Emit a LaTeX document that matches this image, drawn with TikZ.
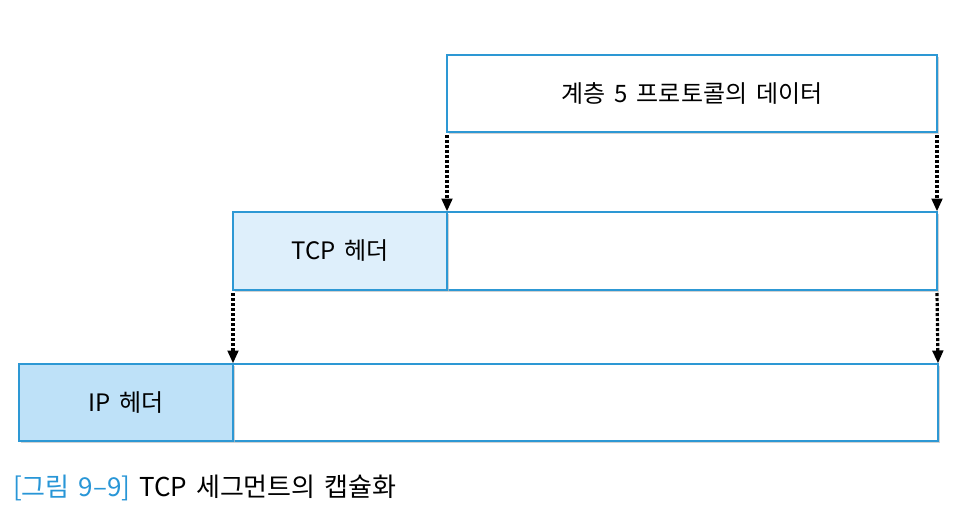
\documentclass[tikz,border=0pt]{standalone}
\usepackage{fontspec}
\setmainfont{Noto Sans CJK KR}
\usetikzlibrary{shadows,arrows.meta}
\definecolor{bordblue}{RGB}{45,152,212}
\definecolor{ipfill}{RGB}{190,225,248}
\definecolor{tcpfill}{RGB}{222,239,251}
\definecolor{capblue}{RGB}{40,150,215}
\tikzset{
  box/.style={draw=bordblue, line width=1.8pt, fill=white, anchor=north west,
    inner sep=0pt, outer sep=0pt, font=\fontsize{24}{28}\selectfont,
    drop shadow={shadow xshift=1.8pt, shadow yshift=-1.8pt, fill=black!25, opacity=0.7}},
  arr/.style={line width=3.2pt, dash pattern=on 3.2pt off 1.8pt, -{Triangle[length=13pt,width=10.5pt]}, shorten >=0.5pt}
}
\begin{document}
\begin{tikzpicture}[x=1pt,y=-1pt]
\useasboundingbox[fill=white] (0,0) rectangle (958,511);
% layer 5 data
\node[box, minimum width=490pt, minimum height=77pt] (l5) at (447,55) {계층\hspace{0.15em} 5\hspace{0.15em} 프로토콜의\hspace{0.15em} 데이터};
% TCP segment
\node[box, minimum width=490pt, minimum height=78pt] (tcpd) at (447,212) {};
\node[box, fill=tcpfill, minimum width=214pt, minimum height=78pt] (tcph) at (233,212) {TCP\hspace{0.15em} 헤더};
% IP datagram
\node[box, minimum width=705pt, minimum height=77pt] (ipd) at (233,364) {};
\node[box, fill=ipfill, minimum width=214pt, minimum height=77pt] (iph) at (19,364) {IP\hspace{0.15em} 헤더};
% arrows
\draw[arr] ([yshift=-3pt]l5.south west) -- (tcpd.north west);
\draw[arr] ([yshift=-3pt]l5.south east) -- (tcpd.north east);
\draw[arr] ([yshift=-3pt]tcph.south west) -- (ipd.north west);
\draw[arr] ([yshift=-3pt]tcpd.south east) -- (ipd.north east);
% caption
\node[anchor=west, inner sep=0pt, font=\fontsize{26}{30}\selectfont] (cap) at (13,488)
  {\textcolor{capblue}{[그림\hspace{0.12em} 9–9]}\hspace{0.12em} TCP\hspace{0.12em} 세그먼트의\hspace{0.12em} 캡슐화};
\end{tikzpicture}
\end{document}
